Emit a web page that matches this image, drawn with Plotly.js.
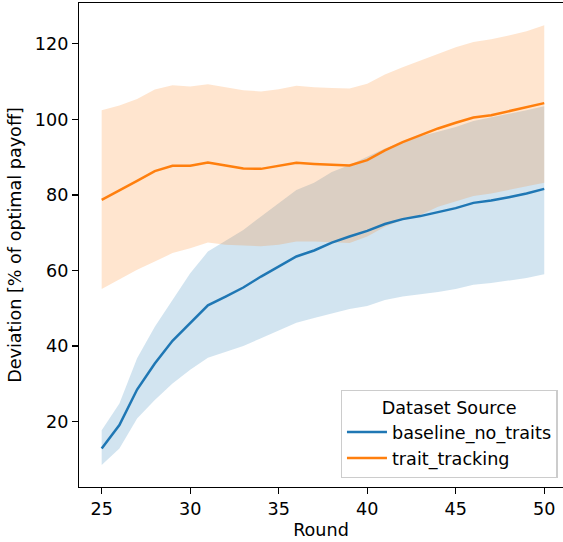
<!DOCTYPE html>
<html>
<head>
<meta charset="utf-8">
<script src="https://cdn.plot.ly/plotly-3.0.1.min.js"></script>
<style>html,body{margin:0;padding:0;background:#fff;}#chart{width:563px;height:542px;}</style>
</head>
<body>
<div id="chart"></div>
<script>
const rounds = [25,26,27,28,29,30,31,32,33,34,35,36,37,38,39,40,41,42,43,44,45,46,47,48,49,50];

const baselineMean  = [12.9,19.1,28.5,35.4,41.4,46.0,50.8,53.1,55.5,58.4,61.1,63.7,65.3,67.4,69.0,70.5,72.3,73.6,74.4,75.4,76.5,77.9,78.5,79.4,80.4,81.6];
const baselineLower = [8.5,12.9,20.8,25.7,30.1,33.7,36.9,38.5,40.0,42.1,44.1,46.2,47.4,48.7,49.8,50.6,52.2,53.1,53.7,54.3,55.1,56.2,56.7,57.3,58.0,59.0];
const baselineUpper = [17.7,24.8,36.8,45.1,52.2,59.3,65.0,67.8,70.7,74.3,77.8,81.3,83.2,86.1,87.9,90.1,92.3,94.0,95.5,96.7,98.0,99.6,100.5,101.5,102.4,103.5];

const traitMean  = [78.7,81.1,83.7,86.3,87.7,87.7,88.6,87.8,87.0,86.9,87.6,88.5,88.2,88.0,87.8,89.2,91.8,94.0,95.8,97.6,99.1,100.5,101.1,102.1,103.1,104.3];
const traitLower = [55.1,57.7,60.2,62.4,64.6,65.9,67.4,66.8,66.5,66.4,66.8,67.7,67.7,67.5,67.3,69.0,71.6,73.4,74.7,76.9,78.2,79.7,80.4,81.3,82.1,83.2];
const traitUpper = [102.4,103.7,105.4,107.9,109.0,108.7,109.3,108.5,107.7,107.4,108.0,108.9,108.5,108.3,108.2,109.4,111.9,113.8,115.6,117.5,119.1,120.5,121.2,122.2,123.3,124.9];

const seriesNames = ["baseline_no_traits", "trait_tracking"];
const legendTitle = "Dataset Source";
const xTitle = "Round";
const yTitle = "Deviation [% of optimal payoff]";
const xTicks = [25,30,35,40,45,50];
const yTicks = [20,40,60,80,100,120];

const blue = "#1f77b4", orange = "#ff7f0e";
const FONT = "DejaVu Sans";
const FS = 17.6;

const band = (lo, hi, fillcolor) => [
  {x: rounds, y: lo, mode: "lines", line: {width: 0, color: "rgba(0,0,0,0)"}, showlegend: false, hoverinfo: "skip"},
  {x: rounds, y: hi, mode: "lines", line: {width: 0, color: "rgba(0,0,0,0)"}, fill: "tonexty", fillcolor: fillcolor, showlegend: false, hoverinfo: "skip"}
];

const data = [
  ...band(baselineLower, baselineUpper, "rgba(31,119,180,0.2)"),
  ...band(traitLower, traitUpper, "rgba(255,127,14,0.2)"),
  {x: rounds, y: baselineMean, mode: "lines", name: seriesNames[0], line: {color: blue, width: 2.5}},
  {x: rounds, y: traitMean, mode: "lines", name: seriesNames[1], line: {color: orange, width: 2.5}}
];

const layout = {
  width: 563, height: 542,
  margin: {l: 79, r: 0, t: 3, b: 55, pad: 0},
  paper_bgcolor: "#fff", plot_bgcolor: "#fff",
  font: {family: FONT, size: FS, color: "#000"},
  showlegend: true,
  xaxis: {
    range: [23.718, 51.06], tickvals: xTicks, ticktext: xTicks.map(String),
    showgrid: false, zeroline: false, showline: true, linecolor: "#000", linewidth: 1.33, mirror: true,
    ticks: "outside", ticklen: 5.8, tickwidth: 1.33, tickcolor: "#000",
    tickfont: {family: FONT, size: FS, color: "#000"},
    title: {text: xTitle, font: {family: FONT, size: FS, color: "#000"}, standoff: 5}
  },
  yaxis: {
    range: [2.7, 130.8], tickvals: yTicks, ticktext: yTicks.map(String),
    showgrid: false, zeroline: false, showline: true, linecolor: "#000", linewidth: 1.33, mirror: false,
    ticks: "outside", ticklen: 5.8, tickwidth: 1.33, tickcolor: "#000",
    tickfont: {family: FONT, size: FS, color: "#000"},
    title: {text: yTitle, font: {family: FONT, size: FS, color: "#000"}, standoff: 8}
  },
  legend: {
    x: 0.989, y: 0.0186, xanchor: "right", yanchor: "bottom",
    traceorder: "normal",
    bgcolor: "rgba(255,255,255,0.8)", bordercolor: "#cccccc", borderwidth: 1.3,
    font: {family: FONT, size: FS, color: "#000"},
    title: {text: legendTitle, side: "top center", font: {family: FONT, size: FS, color: "#000"}},
    itemwidth: 40, tracegroupgap: 0
  }
};

Plotly.newPlot("chart", data, layout, {displayModeBar: false, staticPlot: true});
</script>
</body>
</html>
